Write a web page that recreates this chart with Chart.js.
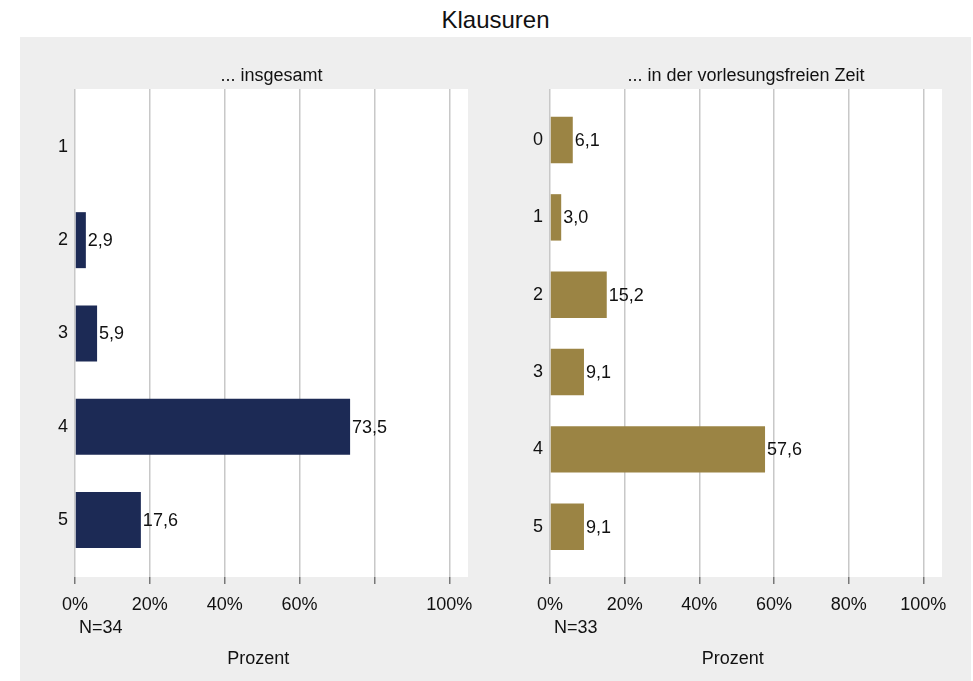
<!DOCTYPE html>
<html><head><meta charset="utf-8">
<script src="https://cdn.jsdelivr.net/npm/chart.js@4/dist/chart.umd.min.js"></script>
<style>
html,body{margin:0;padding:0;background:#fff;}
body{width:973px;height:681px;position:relative;overflow:hidden;font-family:"Liberation Sans",Arial,sans-serif;}
#title{position:absolute;left:20px;width:951px;top:5px;height:30px;line-height:30px;text-align:center;font-size:24px;color:#111;}
#panel{position:absolute;left:20px;top:37px;width:951px;height:644px;background:#eeeeee;}
#c1{position:absolute;left:20px;top:37px;}
#c2{position:absolute;left:495px;top:37px;}
</style></head><body>
<div id="title">Klausuren</div>
<div id="panel"></div>
<canvas id="c1" width="475" height="644"></canvas>
<canvas id="c2" width="476" height="644"></canvas>
<script>
const leftCategories = [1, 2, 3, 4, 5];
const leftValues = [0, 2.9, 5.9, 73.5, 17.6];
const rightCategories = [0, 1, 2, 3, 4, 5];
const rightValues = [6.1, 3.0, 15.2, 9.1, 57.6, 9.1];
const xTickValues = [0, 20, 40, 60, 80, 100];
const leftTickLabels = ['0%', '20%', '40%', '60%', '', '100%'];
const rightTickLabels = ['0%', '20%', '40%', '60%', '80%', '100%'];
const leftSubtitle = '... insgesamt';
const rightSubtitle = '... in der vorlesungsfreien Zeit';
const leftNote = 'N=34';
const rightNote = 'N=33';
const axisTitle = 'Prozent';

const FAMILY = '"Liberation Sans", Arial, sans-serif';
const TEXT = '#111111';

const decor = {
  id: 'decor',
  beforeDraw(chart) {
    const {ctx, chartArea: a} = chart;
    ctx.save();
    ctx.fillStyle = '#ffffff';
    ctx.fillRect(a.left, a.top, a.right - a.left, a.bottom - a.top);
    ctx.restore();
  },
  afterDatasetsDraw(chart, args, o) {
    const ctx = chart.ctx, meta = chart.getDatasetMeta(0), ds = chart.data.datasets[0];
    const xs = chart.scales.x, a = chart.chartArea;
    ctx.save();
    ctx.font = '18px ' + FAMILY;
    ctx.fillStyle = TEXT;
    ctx.textBaseline = 'middle';
    ctx.textAlign = 'left';
    meta.data.forEach((bar, i) => {
      const v = ds.data[i].x;
      if (!v) return;
      ctx.fillText(v.toFixed(1).replace('.', ','), bar.x + 2, bar.y + 1);
    });
    ctx.textAlign = 'center';
    ctx.fillText(o.subtitle, (a.left + a.right) / 2, a.top - 13);
    ctx.textAlign = 'left';
    ctx.fillText(o.note, xs.getPixelForValue(0) + 4, a.bottom + 51);
    ctx.textAlign = 'center';
    ctx.fillText(o.axisTitle, (xs.getPixelForValue(0) + xs.getPixelForValue(100)) / 2 - 4, a.bottom + 82);
    ctx.restore();
  }
};

function makeChart(id, cats, vals, color, yMin, yMax, tickLabels, padRight, subtitle, note) {
  return new Chart(document.getElementById(id), {
    type: 'bar',
    data: {
      datasets: [{
        data: cats.map((c, i) => ({y: c, x: vals[i]})),
        backgroundColor: color,
        barPercentage: 0.6,
        categoryPercentage: 1,
        borderWidth: 0
      }]
    },
    options: {
      indexAxis: 'y',
      responsive: false,
      animation: false,
      devicePixelRatio: 1,
      layout: {padding: {left: 0, right: padRight, top: 52, bottom: 0}},
      plugins: {
        legend: {display: false},
        tooltip: {enabled: false},
        decor: {subtitle: subtitle, note: note, axisTitle: axisTitle}
      },
      scales: {
        x: {
          type: 'linear', min: 0, max: 105, position: 'bottom', offset: false,
          afterBuildTicks: s => { s.ticks = xTickValues.map(v => ({value: v})); },
          afterFit: s => { s.height = 104; },
          ticks: {
            callback: v => tickLabels[xTickValues.indexOf(v)],
            font: {size: 18, family: FAMILY}, color: TEXT, padding: 10,
            maxRotation: 0, autoSkip: false
          },
          grid: {color: '#c8c8c8', lineWidth: 1.5, tickLength: 7, tickColor: '#777777', drawTicks: true, offset: false},
          border: {display: false}
        },
        y: {
          type: 'linear', min: yMin, max: yMax, reverse: true, offset: false,
          afterBuildTicks: s => { s.ticks = cats.map(v => ({value: v})); },
          afterFit: s => { s.width = 55; },
          ticks: {
            callback: v => String(v),
            font: {size: 18, family: FAMILY}, color: TEXT, padding: 7, autoSkip: false
          },
          grid: {display: false, drawTicks: false, offset: false},
          border: {display: false}
        }
      }
    },
    plugins: [decor]
  });
}

makeChart('c1', leftCategories, leftValues, '#1c2a55', 0.38, 5.61, leftTickLabels, 27, leftSubtitle, leftNote);
makeChart('c2', rightCategories, rightValues, '#9b8444', -0.66, 5.65, rightTickLabels, 29, rightSubtitle, rightNote);
</script>
</body></html>
